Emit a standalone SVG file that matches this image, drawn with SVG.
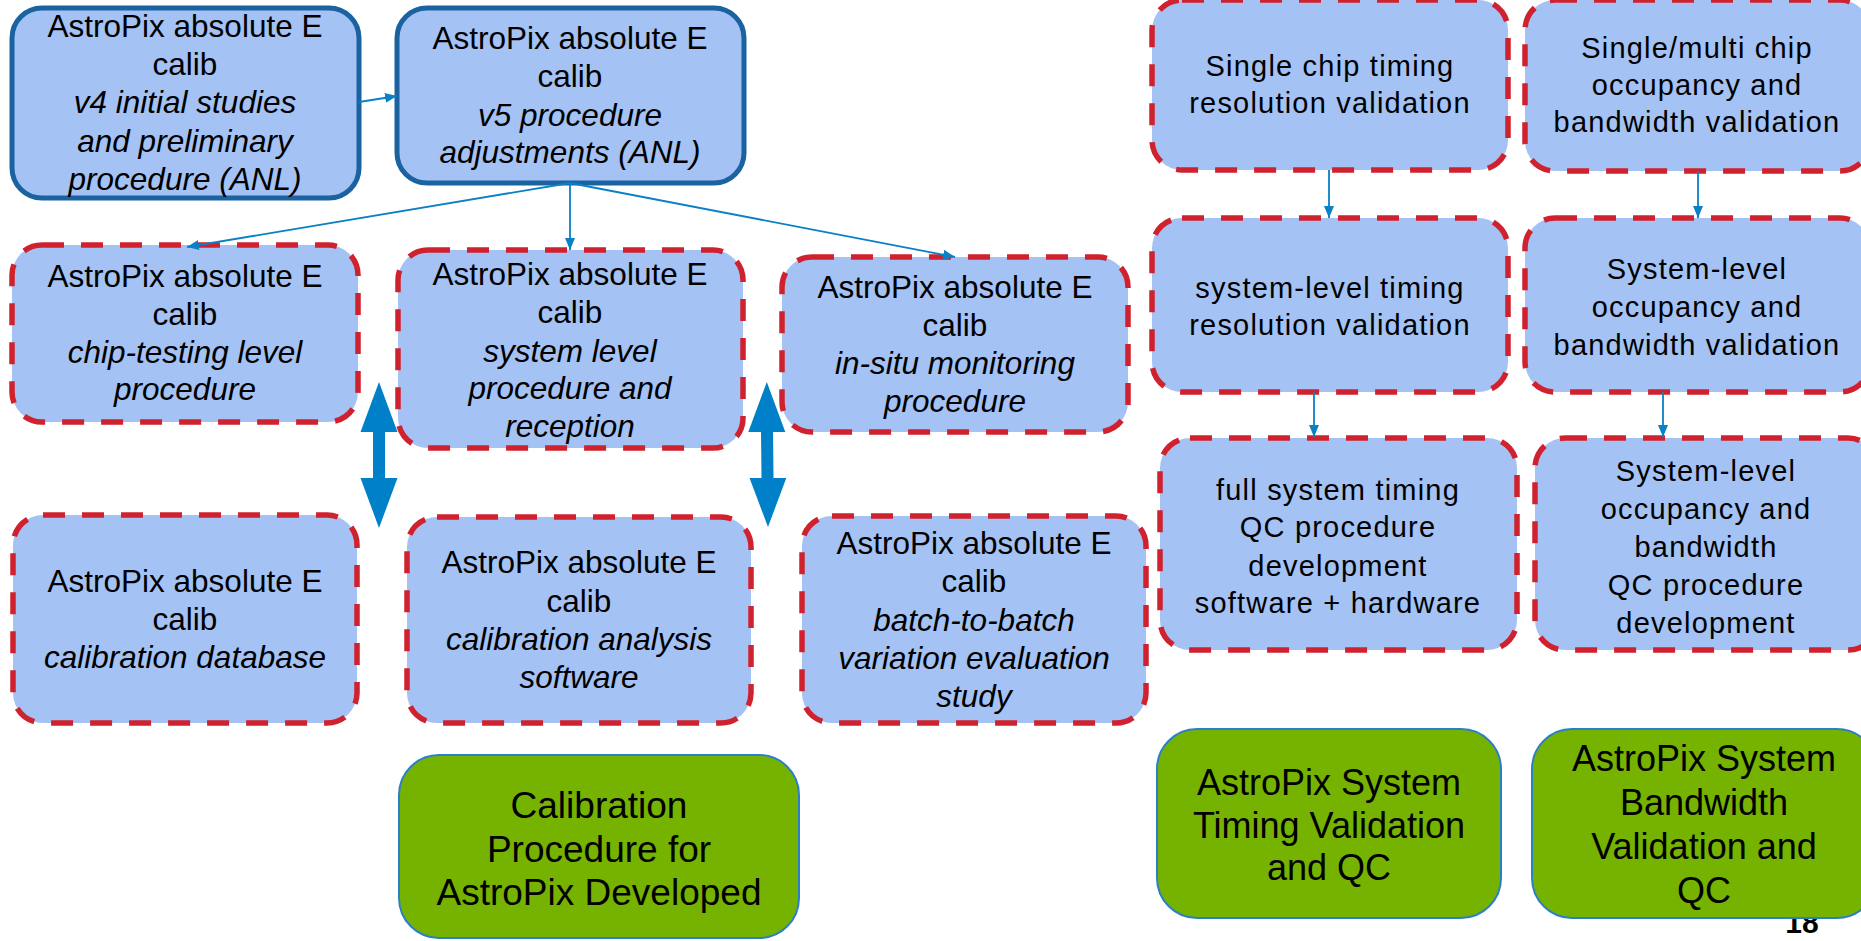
<svg xmlns="http://www.w3.org/2000/svg" width="1861" height="941" viewBox="0 0 1861 941">
<defs>
<style>
.n{fill:#a4c2f4;stroke:#d0222e;stroke-width:5.5;stroke-dasharray:22 17}
.s{fill:#a4c2f4;stroke:#1a63a0;stroke-width:5}
.g{fill:#76b300;stroke:#2a80c8;stroke-width:2}
.t{font-family:"Liberation Sans",Arial,sans-serif;font-size:31.5px;text-anchor:middle;fill:#000}
.i{font-style:italic}
.r{font-family:"Liberation Sans",Arial,sans-serif;font-size:29px;letter-spacing:1.2px;text-anchor:middle;fill:#000}
.gt{font-family:"Liberation Sans",Arial,sans-serif;font-size:36px;text-anchor:middle;fill:#000}
.c{stroke:#0a80c6;stroke-width:1.8;fill:none;marker-end:url(#ah)}
.d{fill:#0080c8}
</style>
<marker id="ah" markerUnits="userSpaceOnUse" markerWidth="13" markerHeight="10" refX="12" refY="5" orient="auto">
<path d="M0,0 L12,5 L0,10 z" fill="#0a80c6"/>
</marker>
</defs>
<rect width="1861" height="941" fill="#fff"/>

<g id="n1"><rect class="s" x="12" y="8" width="347" height="190" rx="30"/>
<text class="t" x="185" y="37">AstroPix absolute E</text><text class="t" x="185" y="75">calib</text>
<text class="t i" x="185" y="113">v4 initial studies</text><text class="t i" x="185" y="152">and preliminary</text><text class="t i" x="185" y="190">procedure (ANL)</text></g>

<g id="n2"><rect class="s" x="397" y="8" width="347" height="175" rx="30"/>
<text class="t" x="570" y="49">AstroPix absolute E</text><text class="t" x="570" y="87">calib</text>
<text class="t i" x="570" y="126">v5 procedure</text><text class="t i" x="570" y="163">adjustments (ANL)</text></g>

<g id="n3"><rect class="n" x="12" y="245" width="346" height="177" rx="30"/>
<text class="t" x="185" y="287">AstroPix absolute E</text><text class="t" x="185" y="325">calib</text>
<text class="t i" x="185" y="363">chip-testing level</text><text class="t i" x="185" y="400">procedure</text></g>

<g id="n4"><rect class="n" x="398" y="250" width="345" height="198" rx="30"/>
<text class="t" x="570" y="285">AstroPix absolute E</text><text class="t" x="570" y="323">calib</text>
<text class="t i" x="570" y="362">system level</text><text class="t i" x="570" y="399">procedure and</text><text class="t i" x="570" y="437">reception</text></g>

<g id="n5"><rect class="n" x="782" y="257" width="346" height="175" rx="30"/>
<text class="t" x="955" y="298">AstroPix absolute E</text><text class="t" x="955" y="336">calib</text>
<text class="t i" x="955" y="374">in-situ monitoring</text><text class="t i" x="955" y="412">procedure</text></g>

<g id="n6"><rect class="n" x="13" y="515" width="344" height="208" rx="30"/>
<text class="t" x="185" y="592">AstroPix absolute E</text><text class="t" x="185" y="630">calib</text>
<text class="t i" x="185" y="668">calibration database</text></g>

<g id="n7"><rect class="n" x="407" y="517" width="344" height="206" rx="30"/>
<text class="t" x="579" y="573">AstroPix absolute E</text><text class="t" x="579" y="612">calib</text>
<text class="t i" x="579" y="650">calibration analysis</text><text class="t i" x="579" y="688">software</text></g>

<g id="n8"><rect class="n" x="802" y="516" width="344" height="207" rx="30"/>
<text class="t" x="974" y="554">AstroPix absolute E</text><text class="t" x="974" y="592">calib</text>
<text class="t i" x="974" y="631">batch-to-batch</text><text class="t i" x="974" y="669">variation evaluation</text><text class="t i" x="974" y="707">study</text></g>

<g id="n9"><rect class="g" x="399" y="755" width="400" height="183" rx="40"/>
<text class="gt" x="599" y="818" style="font-size:37px">Calibration</text><text class="gt" x="599" y="862" style="font-size:37px">Procedure for</text><text class="gt" x="599" y="905" style="font-size:37px">AstroPix Developed</text></g>

<g id="n10"><rect class="n" x="1152" y="0" width="356" height="170" rx="30"/>
<text class="r" x="1330" y="76">Single chip timing</text><text class="r" x="1330" y="113">resolution validation</text></g>

<g id="n11"><rect class="n" x="1525" y="0" width="345" height="171" rx="30"/>
<text class="r" x="1697" y="58">Single/multi chip</text><text class="r" x="1697" y="95">occupancy and</text><text class="r" x="1697" y="132">bandwidth validation</text></g>

<g id="n12"><rect class="n" x="1152" y="218" width="356" height="174" rx="30"/>
<text class="r" x="1330" y="298">system-level timing</text><text class="r" x="1330" y="335">resolution validation</text></g>

<g id="n13"><rect class="n" x="1525" y="218" width="345" height="174" rx="30"/>
<text class="r" x="1697" y="279">System-level</text><text class="r" x="1697" y="317">occupancy and</text><text class="r" x="1697" y="355">bandwidth validation</text></g>

<g id="n14"><rect class="n" x="1160" y="438" width="357" height="212" rx="30"/>
<text class="r" x="1338" y="500">full system timing</text><text class="r" x="1338" y="537">QC procedure</text><text class="r" x="1338" y="576">development</text><text class="r" x="1338" y="613">software + hardware</text></g>

<g id="n15"><rect class="n" x="1535" y="438" width="343" height="212" rx="30"/>
<text class="r" x="1706" y="481">System-level</text><text class="r" x="1706" y="519">occupancy and</text><text class="r" x="1706" y="557">bandwidth</text><text class="r" x="1706" y="595">QC procedure</text><text class="r" x="1706" y="633">development</text></g>

<g id="n16"><rect class="g" x="1157" y="729" width="344" height="189" rx="40"/>
<text class="gt" x="1329" y="795">AstroPix System</text><text class="gt" x="1329" y="838">Timing Validation</text><text class="gt" x="1329" y="880">and QC</text></g>

<g id="pagenum"><text x="1802" y="933" style="font-family:'Liberation Sans',Arial,sans-serif;font-size:30px;font-weight:bold;text-anchor:middle">18</text></g>

<g id="n17"><rect class="g" x="1532" y="729" width="345" height="189" rx="40"/>
<text class="gt" x="1704" y="771">AstroPix System</text><text class="gt" x="1704" y="815">Bandwidth</text><text class="gt" x="1704" y="859">Validation and</text><text class="gt" x="1704" y="903">QC</text></g>

<g id="connectors">
<line class="c" x1="359" y1="102" x2="397" y2="96"/>
<line class="c" x1="570" y1="183" x2="187" y2="247"/>
<line class="c" x1="570" y1="183" x2="570" y2="250"/>
<line class="c" x1="570" y1="183" x2="955" y2="257"/>
<line class="c" x1="1329" y1="170" x2="1329" y2="218"/>
<line class="c" x1="1698" y1="171" x2="1698" y2="218"/>
<line class="c" x1="1314" y1="392" x2="1314" y2="437"/>
<line class="c" x1="1663" y1="392" x2="1663" y2="437"/>
<polygon class="d" points="379,382 397.5,432 385,432 385,478 397.5,478 379,528 360.5,478 373,478 373,432 360.5,432"/>
<polygon class="d" points="766.8,382 785.3,432 773,432 773.5,478 786.3,478 768,527 749.5,478 761.5,478 761,432 748.3,432"/>
</g>
</svg>
